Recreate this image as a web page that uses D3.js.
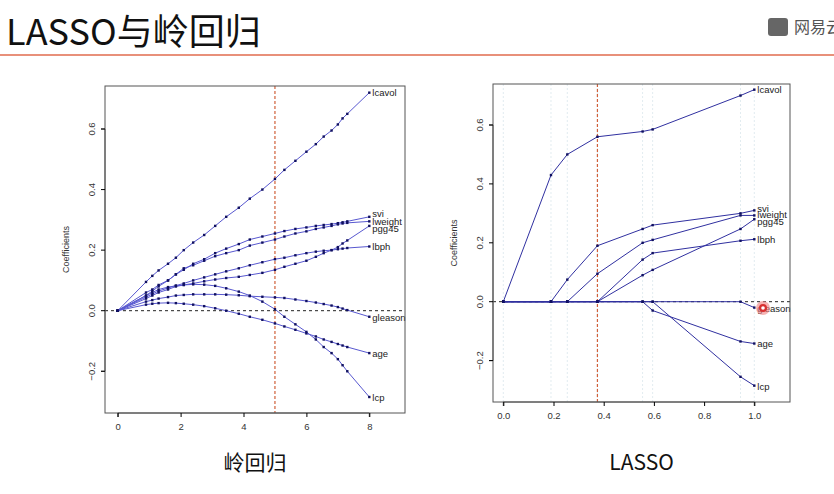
<!DOCTYPE html><html><head><meta charset="utf-8"><script src="https://cdn.jsdelivr.net/npm/d3@7"></script>
<style>body{margin:0;background:#fff}</style></head><body><svg id="c" width="834" height="494"></svg><script>
const vars=["lcavol","svi","lweight","pgg45","lbph","gleason","age","lcp"];
const ridgeDf=[0,0.9,1.1,1.3,1.6,1.85,2.1,2.4,2.75,3.1,3.45,3.85,4.2,4.6,5.0,5.3,5.65,6.0,6.3,6.55,6.8,7.0,7.15,7.3,8];
const ridgeCoef={
lcavol:[0,0.095,0.115,0.133,0.155,0.175,0.2,0.225,0.25,0.28,0.31,0.34,0.37,0.4,0.435,0.465,0.495,0.525,0.55,0.575,0.595,0.615,0.635,0.65,0.72],
svi:[0,0.05,0.065,0.08,0.1,0.12,0.135,0.155,0.17,0.19,0.205,0.22,0.235,0.245,0.255,0.263,0.27,0.275,0.28,0.283,0.286,0.289,0.292,0.295,0.31],
lweight:[0,0.06,0.07,0.085,0.1,0.12,0.14,0.15,0.165,0.18,0.19,0.2,0.215,0.225,0.235,0.245,0.255,0.262,0.27,0.275,0.28,0.285,0.288,0.29,0.295],
pgg45:[0,0.04,0.05,0.06,0.07,0.08,0.085,0.09,0.097,0.103,0.108,0.112,0.118,0.125,0.135,0.145,0.155,0.165,0.178,0.19,0.2,0.21,0.222,0.232,0.28],
lbph:[0,0.045,0.055,0.065,0.075,0.083,0.09,0.1,0.11,0.12,0.13,0.14,0.15,0.16,0.17,0.175,0.183,0.19,0.195,0.198,0.2,0.203,0.205,0.207,0.212],
gleason:[0,0.03,0.035,0.04,0.045,0.05,0.052,0.054,0.054,0.054,0.053,0.051,0.048,0.046,0.044,0.042,0.037,0.032,0.027,0.022,0.017,0.012,0.007,0.002,-0.02],
age:[0,0.02,0.023,0.025,0.026,0.025,0.023,0.02,0.015,0.008,0,-0.01,-0.02,-0.03,-0.042,-0.052,-0.063,-0.075,-0.085,-0.095,-0.103,-0.11,-0.115,-0.12,-0.14],
lcp:[0,0.05,0.06,0.07,0.078,0.082,0.085,0.087,0.086,0.082,0.074,0.063,0.05,0.03,0.005,-0.02,-0.045,-0.07,-0.095,-0.12,-0.14,-0.16,-0.18,-0.2,-0.285]};
const lassoS=[0,0.19,0.255,0.375,0.555,0.595,0.945,1.0];
const lassoCoef={
lcavol:[0,0.43,0.5,0.56,0.578,0.585,0.7,0.72],
svi:[0,0,0.075,0.19,0.247,0.26,0.30,0.31],
lweight:[0,0,0,0.095,0.2,0.21,0.293,0.293],
pgg45:[0,0,0,0,0.09,0.108,0.247,0.28],
lbph:[0,0,0,0,0.143,0.165,0.207,0.212],
gleason:[0,0,0,0,0,0,0,-0.02],
age:[0,0,0,0,0,-0.03,-0.135,-0.142],
lcp:[0,0,0,0,0,0,-0.255,-0.285]};
const ridgeXTicks=[0,2,4,6,8], lassoXTicks=[0,0.2,0.4,0.6,0.8,1.0], yTicks=[-0.2,0,0.2,0.4,0.6];
const labelY={lcavol:0.72,svi:0.32,lweight:0.296,pgg45:0.272,lbph:0.212,gleason:-0.022,age:-0.142,lcp:-0.288};
const labelYL={lcavol:0.72,svi:0.318,lweight:0.295,pgg45:0.271,lbph:0.212,gleason:-0.022,age:-0.142,lcp:-0.288};

const svg=d3.select("#c");
svg.append("text").attr("x",6).attr("y",45).attr("font-family","Noto Sans CJK SC").attr("font-size",36).attr("fill","#111").text("LASSO与岭回归");
svg.append("line").attr("x1",0).attr("x2",834).attr("y1",55).attr("y2",55).attr("stroke","#e8907a").attr("stroke-width",2);
svg.append("rect").attr("x",768).attr("y",18).attr("width",20).attr("height",18).attr("rx",3).attr("fill","#666");
svg.append("text").attr("x",794).attr("y",33).attr("font-family","Noto Sans CJK SC").attr("font-size",16).attr("fill","#555").text("网易云");

function panel(o){
 const x=d3.scaleLinear().domain(o.xd).range([o.x0,o.x1]);
 const y=d3.scaleLinear().domain([0,0.6]).range([o.y0v,o.y6v]);
 const g=svg.append("g").attr("font-family","Liberation Sans");
 if(o.grid) o.grid.forEach(v=>g.append("line").attr("x1",x(v)).attr("x2",x(v)).attr("y1",o.bt).attr("y2",o.bb).attr("stroke","#e2ecf0").attr("stroke-dasharray","2,2"));
 g.append("line").attr("x1",o.bl).attr("x2",o.br).attr("y1",y(0)).attr("y2",y(0)).attr("stroke","#222").attr("stroke-dasharray","3,3");
 g.append("line").attr("x1",x(o.vline)).attr("x2",x(o.vline)).attr("y1",o.bt).attr("y2",o.bb).attr("stroke","#d0603a").attr("stroke-dasharray","3,2").attr("stroke-width",1.2);
 const line=d3.line().x((d,i)=>x(o.xs[i])).y(d=>y(d));
 vars.forEach(v=>{
  const vals=o.coef[v];
  g.append("path").attr("d",line(vals)).attr("fill","none").attr("stroke",o.col).attr("stroke-width",1);
  g.selectAll(null).data(vals).enter().append("rect").attr("x",(d,i)=>x(o.xs[i])-1.2).attr("y",d=>y(d)-1.2).attr("width",2.4).attr("height",2.4).attr("fill","#101060");
  g.append("text").attr("x",x(o.xs[o.xs.length-1])+3).attr("y",y(o.ly[v])+3.5).attr("font-size",9.5).attr("fill","#222").text(v);
 });
 g.append("rect").attr("x",o.bl).attr("y",o.bt).attr("width",o.br-o.bl).attr("height",o.bb-o.bt).attr("fill","none").attr("stroke","#555");
 const xa=g.append("g").attr("transform",`translate(0,${o.bb})`).call(d3.axisBottom(x).tickValues(o.xt).tickSize(4).tickFormat(o.xf));
 xa.select(".domain").attr("d",`M${x(o.xt[0])},4V0H${x(o.xt[o.xt.length-1])}V4`).attr("stroke","#555");
 xa.selectAll("text").attr("font-size",9.5).attr("fill","#333").attr("font-family","Liberation Sans").attr("dy","1em");
 const ya=g.append("g").attr("transform",`translate(${o.bl},0)`).call(d3.axisLeft(y).tickValues(yTicks).tickSize(4).tickFormat(d3.format(".1f")));
 ya.select(".domain").attr("d",`M-4,${y(-0.2)}H0V${y(0.6)}H-4`).attr("stroke","#555");
 ya.selectAll(".tick").attr("transform",null).each(function(d){
   d3.select(this).select("line").attr("y1",y(d)).attr("y2",y(d));
   d3.select(this).select("text").attr("font-size",9.5).attr("fill","#333").attr("font-family","Liberation Sans").attr("text-anchor","middle").attr("x",0).attr("y",0).attr("dy",0).attr("transform",`translate(-10,${y(d)}) rotate(-90)`);
 });
 g.append("text").attr("transform",`translate(${o.bl-36},${(o.bt+o.bb)/2}) rotate(-90)`).attr("text-anchor","middle").attr("font-size",9).attr("fill","#333").text("Coefficients");
 g.append("text").attr("x",(o.bl+o.br)/2).attr("y",470).attr("text-anchor","middle").attr("font-family","Noto Sans CJK SC").attr("font-size",21).attr("fill","#111").text(o.title);
}
panel({xd:[0,8],x0:117.7,x1:369.3,y0v:310.7,y6v:129,bl:105,br:405,bt:86,bb:413,vline:5,xs:ridgeDf,coef:ridgeCoef,col:"#5858d0",ly:labelY,xt:ridgeXTicks,xf:d3.format("d"),title:"岭回归"});
panel({xd:[0,1],x0:503.3,x1:754.3,y0v:301.7,y6v:125,bl:493,br:790,bt:84,bb:402,vline:0.375,xs:lassoS,coef:lassoCoef,col:"#3030a0",ly:labelYL,xt:lassoXTicks,xf:d3.format(".1f"),grid:lassoS,title:"LASSO"});
svg.append("circle").attr("cx",763).attr("cy",308).attr("r",7).attr("fill","#f08080").attr("opacity",0.6);
svg.append("circle").attr("cx",763).attr("cy",308).attr("r",4).attr("fill","#d83030");
svg.append("circle").attr("cx",763).attr("cy",308).attr("r",1.8).attr("fill","#fff");
</script></body></html>
